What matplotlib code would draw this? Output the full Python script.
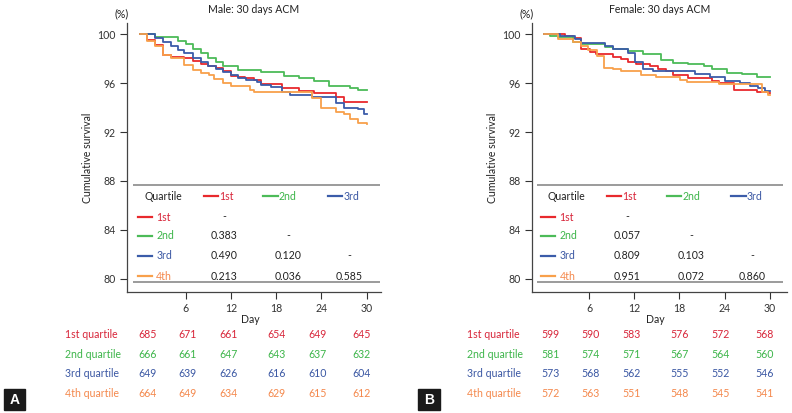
import matplotlib.pyplot as plt
import matplotlib.transforms as mtransforms
from matplotlib.patches import Rectangle

plt.rcParams['font.family'] = ['Lato', 'DejaVu Sans']

quartiles = ['1st', '2nd', '3rd', '4th']
line_colors = ['#e8292d', '#4cbb58', '#3b5ca9', '#f8a04b']
text_colors = ['#d8263a', '#3db54a', '#3a57a3', '#f4884c']
x_ticks = [6, 12, 18, 24, 30]
y_ticks = [80, 84, 88, 92, 96, 100]

# Kaplan-Meier steps, male
male_days = [
    [0, 0.9, 1.9, 3.0, 4.0, 5.8, 7.0, 8.0, 9.0, 10.0, 11.0, 12.0, 13.0, 13.9, 15.0, 16.0, 18.8, 21.0, 23.0, 25.9, 27.0, 30],
    [0, 1.9, 5.0, 6.1, 7.0, 8.0, 8.9, 10.0, 10.9, 12.9, 16.0, 19.0, 21.0, 23.0, 25.0, 27.8, 28.9, 30],
    [0, 1.9, 3.0, 4.0, 5.0, 5.8, 7.0, 8.0, 9.0, 10.0, 11.0, 12.0, 13.0, 14.0, 15.5, 16.0, 17.3, 18.8, 19.9, 22.8, 25.9, 27.0, 28.9, 29.7, 30],
    [0, 0.9, 1.9, 3.0, 4.0, 5.8, 7.0, 8.0, 9.1, 9.8, 10.9, 12.0, 14.6, 15.1, 22.8, 23.9, 25.9, 27.0, 27.8, 28.9, 30],
]
male_surv = [
    [100, 99.53, 99.1, 98.3, 98.17, 98.03, 97.8, 97.54, 97.4, 97.27, 97.0, 96.6, 96.53, 96.4, 96.26, 95.9, 95.58, 95.4, 95.17, 94.84, 94.5, 94.5],
    [100, 99.8, 99.45, 99.2, 98.8, 98.45, 98.1, 97.76, 97.4, 97.1, 96.94, 96.6, 96.4, 96.2, 95.8, 95.58, 95.44, 95.44],
    [100, 99.67, 99.4, 99.07, 98.72, 98.45, 98.03, 97.7, 97.43, 97.2, 96.9, 96.67, 96.45, 96.26, 96.12, 95.85, 95.7, 95.25, 95.0, 94.84, 94.35, 94.0, 93.86, 93.5, 93.5],
    [100, 99.45, 99.07, 98.3, 98.03, 97.5, 97.08, 96.8, 96.67, 96.34, 95.99, 95.8, 95.44, 95.25, 94.76, 94.0, 93.67, 93.45, 93.04, 92.77, 92.7],
]

# Kaplan-Meier steps, female
female_days = [
    [0, 2.8, 3.9, 5.0, 6.1, 7.0, 9.2, 10.3, 11.2, 12.3, 14.1, 15.1, 16.2, 17.2, 19.2, 22.3, 23.2, 25.2, 28.3, 29.8, 30],
    [0, 0.84, 1.9, 3.9, 5.0, 8.1, 9.2, 11.2, 13.2, 15.6, 17.2, 19.2, 21.2, 22.3, 24.3, 26.3, 28.3, 30],
    [0, 2.2, 4.1, 5.0, 8.1, 9.2, 11.2, 12.1, 13.2, 14.5, 20.0, 22.0, 24.0, 26.0, 27.3, 28.4, 29.3, 30],
    [0, 1.9, 3.9, 5.0, 5.9, 7.1, 8.0, 9.2, 10.3, 12.9, 14.9, 18.1, 19.0, 23.2, 29.0, 29.8, 30],
]
female_surv = [
    [100, 99.9, 99.67, 98.8, 98.58, 98.36, 98.17, 97.95, 97.76, 97.6, 97.4, 97.2, 97.0, 96.7, 96.45, 96.2, 96.0, 95.44, 95.3, 95.2, 95.2],
    [100, 99.9, 99.75, 99.4, 99.18, 98.99, 98.8, 98.66, 98.36, 97.9, 97.68, 97.57, 97.4, 97.2, 96.86, 96.73, 96.53, 96.5],
    [100, 99.85, 99.59, 99.26, 99.07, 98.77, 98.44, 97.76, 97.2, 97.02, 96.75, 96.48, 96.2, 95.99, 95.77, 95.58, 95.39, 95.39],
    [100, 99.59, 99.4, 99.07, 98.7, 98.25, 97.27, 97.2, 97.02, 96.65, 96.5, 96.3, 96.07, 95.95, 95.3, 95.03, 95.03],
]

# number at risk
male_risk = [
    [685, 671, 661, 654, 649, 645],
    [666, 661, 647, 643, 637, 632],
    [649, 639, 626, 616, 610, 604],
    [664, 649, 634, 629, 615, 612],
]
female_risk = [
    [599, 590, 583, 576, 572, 568],
    [581, 574, 571, 567, 564, 560],
    [573, 568, 562, 555, 552, 546],
    [572, 563, 551, 548, 545, 541],
]

# pairwise p-values (row vs column), '-' on the diagonal
male_p = [['-'], ['0.383', '-'], ['0.490', '0.120', '-'], ['0.213', '0.036', '0.585']]
female_p = [['-'], ['0.057', '-'], ['0.809', '0.103', '-'], ['0.951', '0.072', '0.860']]

W, H = 792, 413
fig = plt.figure(figsize=(W / 100, H / 100), dpi=100)

TOP, BOTTOM = 22.7, 292.0
PX_DAY = 7.54
PX_UNIT = 12.22
Y100 = 34.3
FS = 7.6


def yv(py):
    # pixel row -> survival value
    return 100 - (py - Y100) / PX_UNIT


def panel(x0, x1, day0, title, days, surv, risk, pvals, label_px, letter, box_px):
    ax = fig.add_axes([x0 / W, 1 - BOTTOM / H, (x1 - x0) / W, (BOTTOM - TOP) / H])
    ax.set_xlim((x0 - day0) / PX_DAY, (x1 - day0) / PX_DAY)
    ax.set_ylim(yv(BOTTOM), yv(TOP))

    for i in range(4):
        ax.step(days[i], surv[i], where='post', color=line_colors[i], lw=1.3)

    ax.set_xticks(x_ticks)
    ax.set_yticks(y_ticks)
    ax.tick_params(direction='out', length=5, width=0.8, colors='#333333',
                   labelsize=FS, pad=3)
    for s in ['top', 'right']:
        ax.spines[s].set_visible(False)
    for s in ['left', 'bottom']:
        ax.spines[s].set_color('#444444')
        ax.spines[s].set_linewidth(0.9)

    ax.set_xlabel('Day', fontsize=FS, color='#222222')
    ax.xaxis.set_label_coords(0.484, (BOTTOM - 314) / (BOTTOM - TOP))
    ax.set_ylabel('Cumulative survival', fontsize=FS, color='#222222')
    ax.yaxis.set_label_coords(-0.134, 0.5)
    ax.text(-0.02, (BOTTOM - 14) / (BOTTOM - TOP), '(%)', transform=ax.transAxes,
            ha='center', va='center', fontsize=FS, color='#222222')
    ax.set_title(title, fontsize=FS, color='#222222', pad=7)

    # p-value table inside the plot
    ax.hlines([yv(185), yv(282.3)], -0.94, 31.8, color='#8a8a8a', lw=1.2)
    rows_y = [yv(196), yv(217), yv(235.7), yv(255.7), yv(276)]
    ax.text(0.48, rows_y[0], 'Quartile', fontsize=FS, color='#222222', va='center')
    head_lines = [(8.45, 10.3), (16.3, 18.2), (24.9, 26.8)]
    for j, (a, b) in enumerate(head_lines):
        ax.plot([a, b], [rows_y[0], rows_y[0]], color=line_colors[j], lw=1.6)
        ax.text(b + 0.15, rows_y[0], quartiles[j], fontsize=FS,
                color=text_colors[j], va='center')
    col_x = [11.1, 19.55, 27.65]
    for i in range(4):
        y = rows_y[i + 1]
        ax.plot([-0.35, 1.55], [y, y], color=line_colors[i], lw=1.6)
        ax.text(2.1, y, quartiles[i], fontsize=FS, color=text_colors[i], va='center')
        for j, val in enumerate(pvals[i]):
            ax.text(col_x[j], y, val, fontsize=FS, color='#222222',
                    ha='center', va='center')

    # number at risk under the axis
    tr = mtransforms.blended_transform_factory(ax.transData, fig.transFigure)
    risk_x = [0.9, 6.2, 11.7, 18.0, 23.5, 29.3]
    risk_y = [335, 354, 373.3, 393.3]
    for i in range(4):
        fig.text(label_px / W, 1 - risk_y[i] / H, quartiles[i] + ' quartile',
                 fontsize=FS, color=text_colors[i], va='center')
        for j, n in enumerate(risk[i]):
            ax.text(risk_x[j], 1 - risk_y[i] / H, str(n), transform=tr,
                    fontsize=FS, color=text_colors[i], ha='center', va='center')

    # panel letter
    bx0, bx1, by0, by1 = box_px
    fig.patches.append(Rectangle((bx0 / W, 1 - by1 / H), (bx1 - bx0) / W, (by1 - by0) / H,
                                 transform=fig.transFigure, color='#1a1a1a'))
    fig.text((bx0 + bx1) / 2 / W, 1 - (by0 + by1) / 2 / H, letter, color='white',
             fontsize=10, fontweight='bold', ha='center', va='center',
             family=['Liberation Sans', 'DejaVu Sans'])
    return ax


panel(127, 381, 140.4, 'Male: 30 days ACM', male_days, male_surv, male_risk,
      male_p, 65, 'A', (4, 25, 389, 410))
panel(531.7, 786.7, 543.7, 'Female: 30 days ACM', female_days, female_surv,
      female_risk, female_p, 466.7, 'B', (418, 440, 389, 410))

fig.savefig('out.png', dpi=100)
